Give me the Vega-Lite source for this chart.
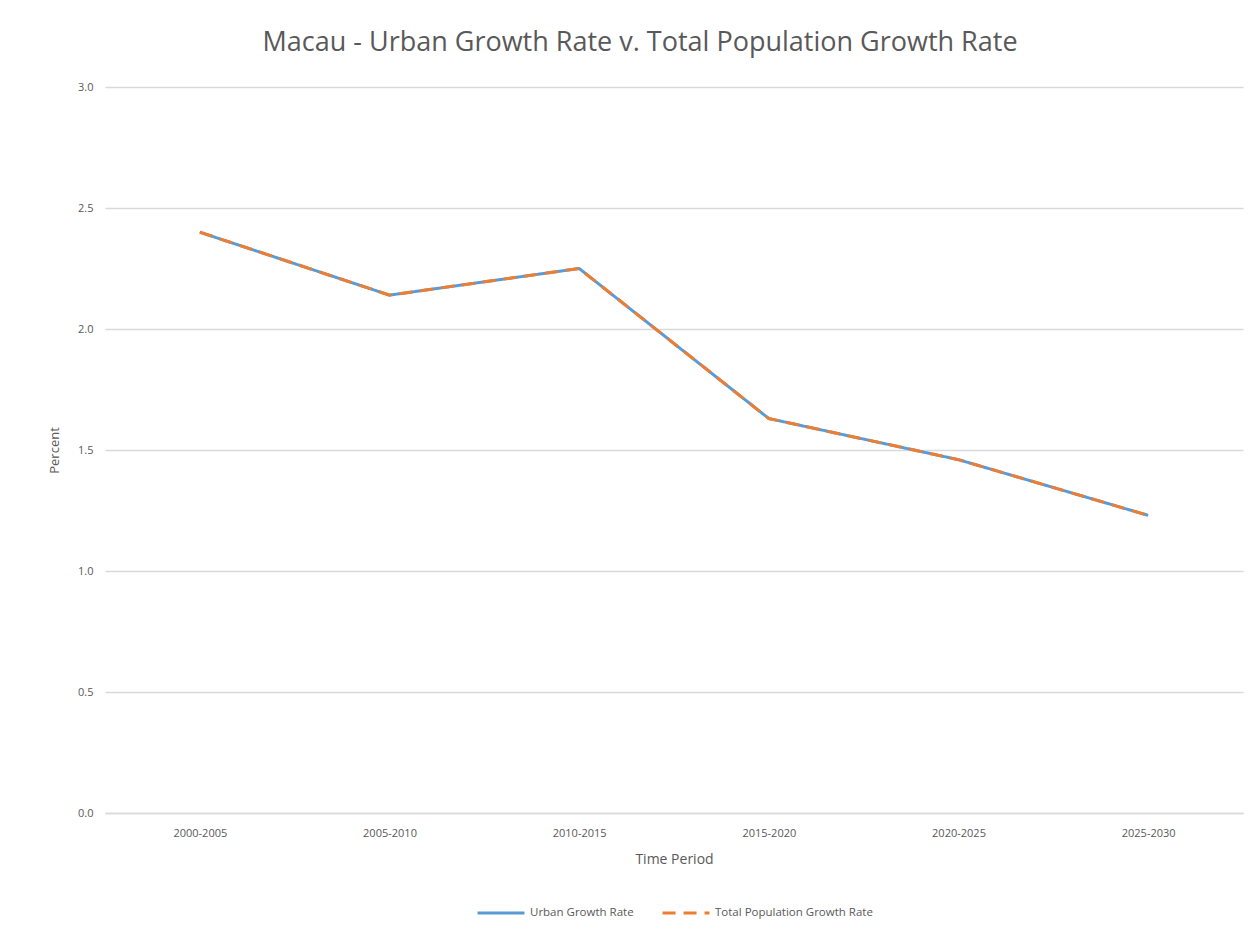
{
  "$schema": "https://vega.github.io/schema/vega-lite/v6.json",
  "width": 1138,
  "height": 726,
  "autosize": {"type": "none"},
  "padding": {"left": 105, "top": 87, "right": 11, "bottom": 132},
  "background": "white",
  "title": {
    "text": "Macau - Urban Growth Rate v. Total Population Growth Rate",
    "anchor": "middle",
    "fontSize": 27,
    "font": "Open Sans",
    "fontWeight": "normal",
    "color": "#595959",
    "offset": 24,
    "dx": -34
  },
  "data": {
    "values": [
      {"period": "2000-2005", "series": "Urban Growth Rate", "value": 2.40},
      {"period": "2005-2010", "series": "Urban Growth Rate", "value": 2.14},
      {"period": "2010-2015", "series": "Urban Growth Rate", "value": 2.25},
      {"period": "2015-2020", "series": "Urban Growth Rate", "value": 1.63},
      {"period": "2020-2025", "series": "Urban Growth Rate", "value": 1.46},
      {"period": "2025-2030", "series": "Urban Growth Rate", "value": 1.23},
      {"period": "2000-2005", "series": "Total Population Growth Rate", "value": 2.40},
      {"period": "2005-2010", "series": "Total Population Growth Rate", "value": 2.14},
      {"period": "2010-2015", "series": "Total Population Growth Rate", "value": 2.25},
      {"period": "2015-2020", "series": "Total Population Growth Rate", "value": 1.63},
      {"period": "2020-2025", "series": "Total Population Growth Rate", "value": 1.46},
      {"period": "2025-2030", "series": "Total Population Growth Rate", "value": 1.23}
    ]
  },
  "mark": {"type": "line", "strokeWidth": 3, "strokeCap": "butt"},
  "encoding": {
    "x": {
      "field": "period",
      "type": "ordinal",
      "sort": null,
      "scale": {"type": "point", "padding": 0.5},
      "axis": {
        "title": "Time Period",
        "labelAngle": 0,
        "labelFont": "Open Sans",
        "labelFontSize": 11,
        "labelColor": "#595959",
        "labelPadding": 14,
        "titleFont": "Open Sans",
        "titleFontSize": 14,
        "titleFontWeight": "normal",
        "titleColor": "#595959",
        "titlePadding": 14,
        "ticks": false,
        "domainColor": "#d9d9d9",
        "domainWidth": 1.5,
        "grid": false
      }
    },
    "y": {
      "field": "value",
      "type": "quantitative",
      "scale": {"domain": [0, 3]},
      "axis": {
        "title": "Percent",
        "values": [0, 0.5, 1, 1.5, 2, 2.5, 3],
        "format": ".1f",
        "labelFont": "Open Sans",
        "labelFontSize": 11,
        "labelColor": "#595959",
        "labelPadding": 12,
        "titleFont": "Open Sans",
        "titleFontSize": 13,
        "titleFontWeight": "normal",
        "titleColor": "#595959",
        "titlePadding": 16,
        "ticks": false,
        "domain": false,
        "grid": true,
        "gridColor": "#d9d9d9",
        "gridWidth": 1.5
      }
    },
    "color": {
      "field": "series",
      "type": "nominal",
      "scale": {
        "domain": ["Urban Growth Rate", "Total Population Growth Rate"],
        "range": ["#5B9BD5", "#ED7D31"]
      },
      "legend": {
        "title": null,
        "orient": "bottom",
        "direction": "horizontal",
        "symbolType": "stroke",
        "symbolStrokeWidth": 3,
        "symbolSize": 2200,
        "labelFont": "Open Sans",
        "labelFontSize": 11.5,
        "labelColor": "#595959",
        "columnPadding": 22,
        "offset": 22
      }
    },
    "strokeDash": {
      "field": "series",
      "type": "nominal",
      "scale": {
        "domain": ["Urban Growth Rate", "Total Population Growth Rate"],
        "range": [[1, 0], [13, 8]]
      },
      "legend": {
        "title": null,
        "orient": "bottom",
        "direction": "horizontal",
        "symbolType": "stroke",
        "symbolStrokeWidth": 3,
        "symbolSize": 2200,
        "labelFont": "Open Sans",
        "labelFontSize": 11.5,
        "labelColor": "#595959",
        "columnPadding": 22,
        "offset": 22
      }
    }
  },
  "config": {
    "view": {"stroke": null},
    "legend": {
      "layout": {"bottom": {"anchor": "middle", "direction": "horizontal"}}
    }
  }
}
